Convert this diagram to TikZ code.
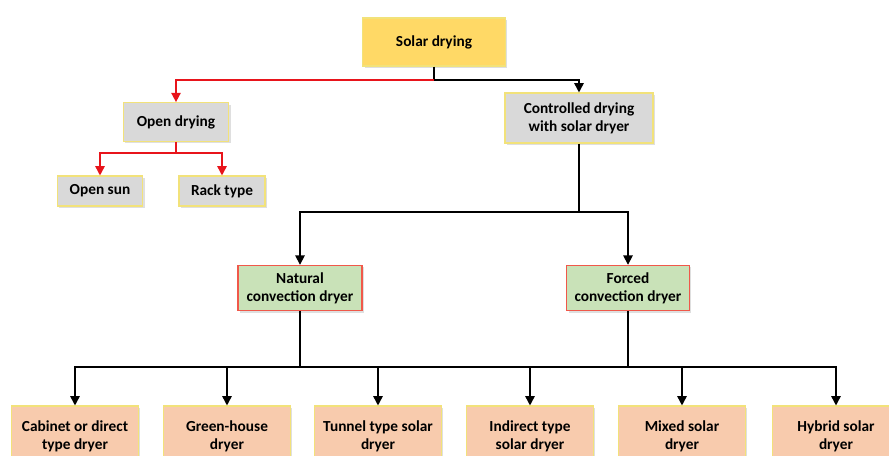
\documentclass[tikz,border=0pt]{standalone}
\usepackage{fontspec}
\setmainfont{Carlito}
\usetikzlibrary{arrows.meta}
\usetikzlibrary{shadows}
\definecolor{sunyellow}{HTML}{FFD966}
\definecolor{paleyellow}{HTML}{F2E27A}
\definecolor{boxgray}{HTML}{D9D9D9}
\definecolor{boxgreen}{HTML}{C9E2B8}
\definecolor{boxorange}{HTML}{F8CBAD}
\definecolor{edgered}{HTML}{F0584A}
\definecolor{linered}{HTML}{E8141B}
\tikzset{
  box/.style={line width=0.8pt, inner sep=0pt, align=center,
    font=\fontsize{11.5}{13.5}\selectfont\bfseries,
    drop shadow={shadow xshift=1.5pt, shadow yshift=-1.5pt, opacity=.25}},
  sunbox/.style={box, draw=paleyellow, fill=sunyellow},
  graybox/.style={box, draw=paleyellow, fill=boxgray},
  greenbox/.style={box, draw=edgered, fill=boxgreen},
  orangebox/.style={box, draw=paleyellow, fill=boxorange,
    minimum width=95pt, minimum height=45pt},
  wire/.style={line width=1.2pt, black},
  redwire/.style={line width=1.2pt, linered},
  arr/.style={-{Triangle[width=7pt,length=7pt]}}
}
\begin{document}
\begin{tikzpicture}[x=0.75pt,y=-0.75pt]
\useasboundingbox (0,0) rectangle (889,455);
\coordinate (topbus) at (434,80);
\coordinate (openbus) at (176,153);
\coordinate (ctrlbus) at (579,212);
\coordinate (natbus) at (300,367);
\coordinate (forbus) at (628,367);
% level 1 and 2
\node[sunbox, minimum width=107pt, minimum height=36pt] (solar) at (434,42) {Solar drying};
\node[graybox, minimum width=79pt, minimum height=29pt] (open) at (176,122) {Open drying};
\node[graybox, minimum width=111pt, minimum height=37.5pt] (ctrl) at (579,118) {Controlled drying\\with solar dryer};
\node[graybox, minimum width=64pt, minimum height=22.5pt] (opensun) at (100,191) {Open sun};
\node[graybox, minimum width=64.5pt, minimum height=22.5pt] (rack) at (222,191) {Rack type};
% level 3
\node[greenbox, minimum width=93pt, minimum height=34pt] (natural) at (300,288) {Natural\\convection dryer};
\node[greenbox, minimum width=92pt, minimum height=34pt] (forced) at (628,288) {Forced\\convection dryer};
% level 4
\node[orangebox] (cabinet) at (75,436) {Cabinet or direct\\type dryer};
\node[orangebox] (greenhouse) at (227,436) {Green-house\\dryer};
\node[orangebox] (tunnel) at (378,436) {Tunnel type solar\\dryer};
\node[orangebox] (indirect) at (530,436) {Indirect type\\solar dryer};
\node[orangebox] (mixed) at (682,436) {Mixed solar\\dryer};
\node[orangebox] (hybrid) at (836,436) {Hybrid solar\\dryer};
% connectors
\draw[wire] (solar) -- (topbus);
\draw[redwire, arr] (topbus) -| (open);
\draw[wire, arr] (topbus) -| (ctrl);
\draw[redwire] (open) -- (openbus);
\draw[redwire, arr] (openbus) -| (opensun);
\draw[redwire, arr] (openbus) -| (rack);
\draw[wire] (ctrl) -- (ctrlbus);
\draw[wire, arr] (ctrlbus) -| (natural);
\draw[wire, arr] (ctrlbus) -| (forced);
\draw[wire] (natural) -- (natbus);
\draw[wire] (forced) -- (forbus);
\draw[wire] (natbus) -- (forbus);
\foreach \n in {cabinet,greenhouse,tunnel}
  \draw[wire, arr] (natbus) -| (\n);
\foreach \n in {indirect,mixed,hybrid}
  \draw[wire, arr] (forbus) -| (\n);
\end{tikzpicture}
\end{document}
